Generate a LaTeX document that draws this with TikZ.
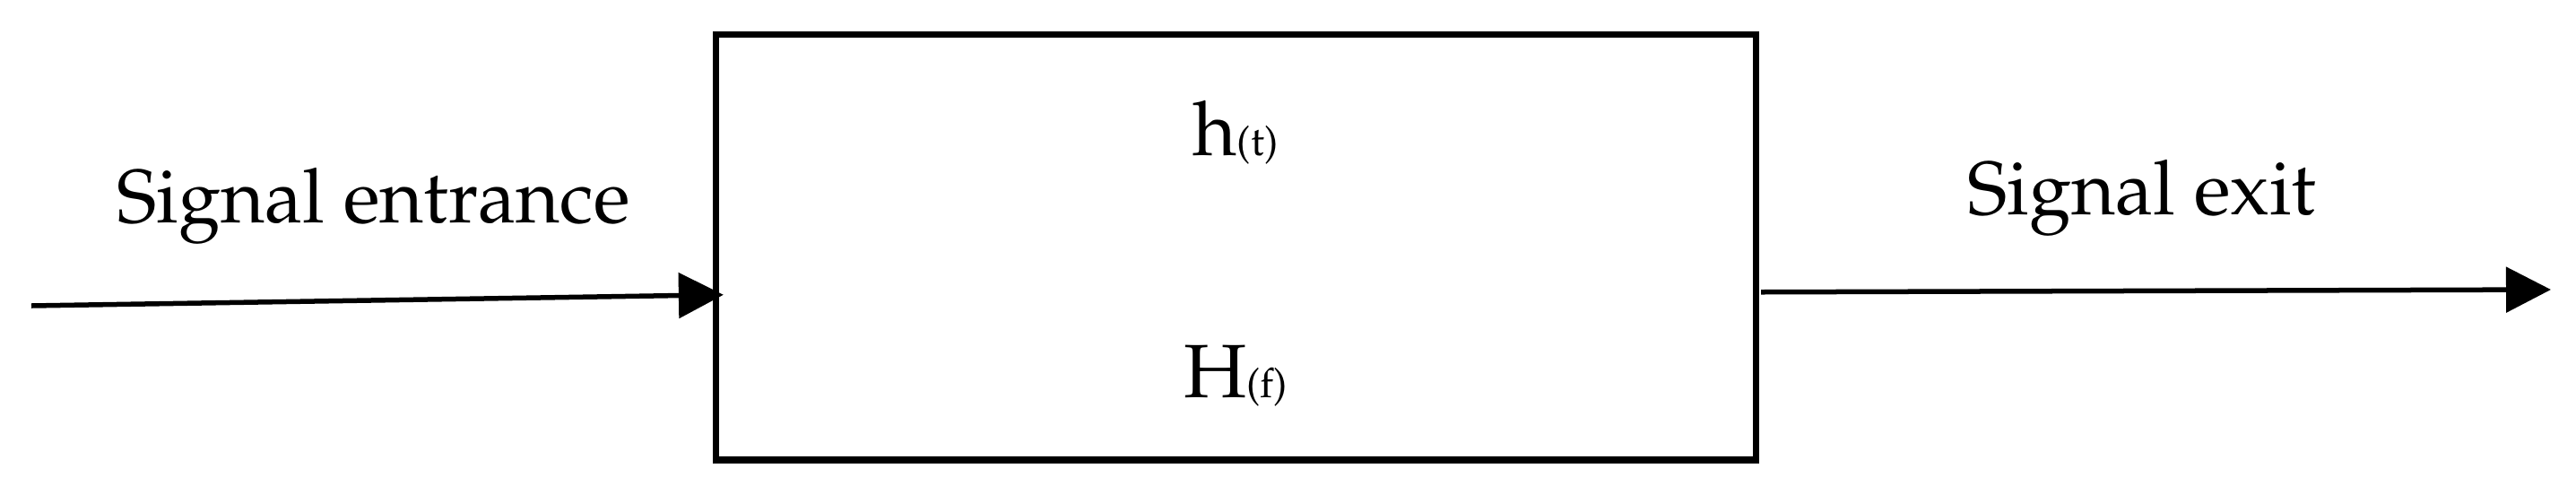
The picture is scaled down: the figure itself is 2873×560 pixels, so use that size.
\documentclass[tikz,border=0pt]{standalone}
\usepackage[T1]{fontenc}
\usepackage{mathpazo}
\usetikzlibrary{arrows.meta,calc}

\newcommand{\subsz}[1]{{\fontsize{13}{13}\selectfont #1}}

\begin{document}
\begin{tikzpicture}[x=0.01cm, y=-0.01cm, >={Triangle[length=0.5cm,width=0.5cm]},
	every node/.style={inner sep=0pt, font=\fontsize{24}{28}\selectfont},
	sysbox/.style={draw, line width=0.075cm, minimum width=11.59cm, minimum height=4.745cm},
	sig/.style={->, line width=0.055cm}]
	\useasboundingbox (0,0) rectangle (2873,560);
	% system block
	\node[sysbox] (sys) at (1378.5,275.75) {};
	\node[anchor=base] (ht) at (1378,173) {h\subsz{(t)}};
	\node[anchor=base] (Hf) at (1378,443) {H\subsz{(f)}};

	% input side
	\coordinate (in) at (35,341);
	\coordinate (entry) at ($(sys.west)+(12,53)$);
	\draw[sig] (in) -- (entry);
	\node[anchor=base] (inlbl) at (416.5,248) {Signal entrance};

	% output side
	\coordinate (exit) at ($(sys.east)+(2,50)$);
	\coordinate (out) at (2845,323);
	\draw[sig] (exit) -- (out);
	\node[anchor=base] (outlbl) at (2389,239) {Signal exit};
\end{tikzpicture}
\end{document}
